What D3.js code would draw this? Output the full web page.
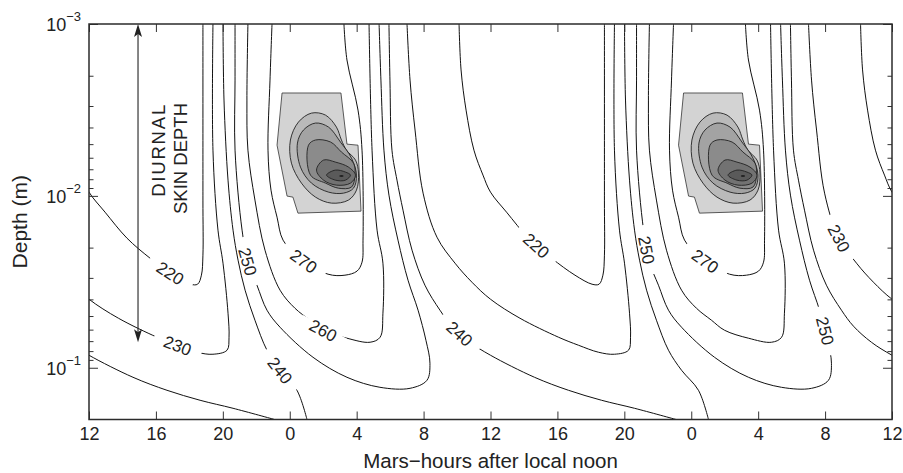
<!DOCTYPE html>
<html>
<head>
<meta charset="utf-8">
<script src="https://cdnjs.cloudflare.com/ajax/libs/d3/7.8.5/d3.min.js"></script>
<style>
  body { margin: 0; background: #fff; }
  svg text { font-family: "Liberation Sans", Arial, Helvetica, sans-serif; fill: #222; }
</style>
</head>
<body>
<script>
// x = Mars-hours after local noon (12 .. 60 = two sols), y = depth in m
const hourTicks = [12, 16, 20, 24, 28, 32, 36, 40, 44, 48, 52, 56, 60];
const depthMajor = [1e-3, 1e-2, 1e-1];

// temperature contours (K), [hour, depth], one sol each, repeated every 24 h
const c220 = [[34.12,0.00100],[34.24,0.00185],[34.54,0.00317],[35.01,0.00542],[35.55,0.00757],[36.00,0.00951],
  [36.96,0.01244],[38.27,0.01762],[39.65,0.02304],[41.05,0.02893],[42.07,0.03265],[42.49,0.03265],[42.72,0.02893],
  [42.81,0.02213],[42.81,0.01058],[42.81,0.00100]];
const c230 = [[31.01,0.00100],[31.19,0.00212],[31.49,0.00414],[31.97,0.00964],[32.80,0.01739],[33.88,0.02464],
  [34.89,0.03178],[36.00,0.03993],[37.76,0.0515],[40.07,0.06645],[41.26,0.07396],[42.46,0.08124],[43.41,0.08344],
  [44.25,0.07906],[44.37,0.06645],[44.31,0.04816],[44.01,0.02464],[43.71,0.01583],[43.41,0.00542],[43.41,0.00100]];
const c240rise = [[25.03,0.2],[24.43,0.1352],[23.42,0.1034],[22.64,0.0791],[21.92,0.0529],[21.33,0.03538],
  [20.91,0.02366],[20.61,0.01583],[20.31,0.0081],[20.07,0.00277],[20.01,0.001]];
const c240fall = [[29.93,0.00100],[29.99,0.00212],[30.11,0.00542],[30.41,0.0081],[30.77,0.01211],[31.31,0.0207],
  [32.08,0.03309],[32.98,0.04626],[33.70,0.05733],[34.77,0.07105],[36.00,0.08456],[38.63,0.1136],[40.66,0.1352],
  [42.64,0.1546],[44.61,0.1721],[47.09,0.2]];
const c250 = [[20.73,0.001],[20.73,0.00212],[20.73,0.00542],[21.15,0.01583],[21.50,0.0243],[22.04,0.03309],
  [22.64,0.04626],[23.42,0.0581],[25.39,0.0869],[27.42,0.1136],[29.39,0.1299],[31.19,0.1317],[32.20,0.1183],
  [32.38,0.0941],[32.14,0.0692],[31.67,0.04626],[31.07,0.03095],[30.47,0.0181],[29.93,0.0099],[29.63,0.00542],
  [29.45,0.00212],[29.34,0.001]];
const c260 = [[21.50,0.001],[21.44,0.00277],[21.50,0.00542],[21.92,0.01058],[22.52,0.0207],[23.42,0.03538],
  [24.31,0.04504],[25.21,0.0529],[25.99,0.0605],[27.42,0.0673],[28.80,0.07105],[29.40,0.06645],[29.57,0.04816],
  [29.57,0.02464],[29.22,0.01583],[28.92,0.00542],[28.74,0.001]];
const c270 = [[22.94,0.001],[22.82,0.00212],[22.70,0.00542],[22.88,0.00926],[23.24,0.0133],[23.60,0.0181],
  [24.61,0.02304],[26.29,0.02855],[27.30,0.02893],[28.02,0.0274],[28.32,0.0243],[28.38,0.0181],[28.32,0.00542],
  [28.08,0.00317],[27.42,0.00162],[27.24,0.001]];

// contour labels: [level, hour, depth]
const contourLabels = [
  [220, 16.96, 0.02705], [230, 17.26, 0.07396], [250, 21.50, 0.0243], [270, 24.73, 0.0243],
  [260, 25.99, 0.0605], [240, 23.42, 0.1034], [240, 34.18, 0.06297],
  [220, 38.78, 0.01936], [250, 45.36, 0.0207], [270, 48.82, 0.0243], [250, 55.58, 0.06297], [230, 56.89, 0.01739]
];

// shaded field (outer polygon + nested levels), first sol
const shadeOuter = [[23.54,0.00252],[27.06,0.00252],[27.42,0.0050],[28.08,0.00507],[28.26,0.01227],
  [24.49,0.0126],[24.19,0.01017],[23.84,0.01003],[23.24,0.00507]];
const shade1 = [[24.04,0.00473],[24.52,0.00372],[25.30,0.0033],[26.14,0.00339],[26.79,0.00398],[27.09,0.00473],
  [27.39,0.00542],[27.93,0.00619],[28.11,0.00737],[27.99,0.00926],[27.51,0.01058],[26.50,0.01102],[25.54,0.01017],
  [24.70,0.00843],[24.10,0.00645]];
const shade2 = [[24.46,0.00493],[24.82,0.00414],[25.54,0.00377],[26.32,0.00398],[27.03,0.00486],[27.69,0.00603],
  [27.99,0.00757],[27.81,0.00902],[27.21,0.00964],[26.32,0.00951],[25.30,0.00843],[24.64,0.0068]];
const shade3 = [[25.12,0.00507],[25.54,0.00473],[26.44,0.00486],[27.09,0.00556],[27.81,0.00645],[27.90,0.00757],
  [27.69,0.00889],[26.91,0.00902],[26.14,0.00843],[25.24,0.00757]];
const shade4 = [[25.60,0.00708],[26.02,0.00619],[26.73,0.00636],[27.51,0.0068],[27.93,0.00757],[27.63,0.00843],
  [26.79,0.00866],[26.02,0.0081]];
const shade5 = [[26.20,0.00757],[26.73,0.00708],[27.33,0.00727],[27.63,0.00757],[27.33,0.0081],[26.73,0.0081]];
const shadeDot = [27.09, 0.00767];

// skin depth arrow: hour, top depth, bottom depth
const skinArrow = [14.93, 0.001, 0.071];

const margin = { top: 24, right: 11, bottom: 53.5, left: 89 };
const width = 903 - margin.left - margin.right;
const height = 473 - margin.top - margin.bottom;

const x = d3.scaleLinear().domain([12, 60]).range([0, width]);
const y = d3.scaleLog().domain([1e-3, 0.2]).range([0, height]);

const svg = d3.select("body").append("svg")
    .attr("width", 903)
    .attr("height", 473);

const g = svg.append("g")
    .attr("transform", `translate(${margin.left},${margin.top})`);

svg.append("defs").append("clipPath").attr("id", "plotclip")
  .append("rect").attr("width", width).attr("height", height);

const plot = g.append("g").attr("clip-path", "url(#plotclip)");

// shaded blobs, one per sol
const shadeFills = ["#d3d3d3", "#bababa", "#a3a3a3", "#8b8b8b", "#727272", "#5a5a5a"];
const shift = (pts, s) => pts.map(p => [p[0] + s, p[1]]);
const polyLine = d3.line().x(d => x(d[0])).y(d => y(d[1])).curve(d3.curveLinearClosed);
const blobLine = d3.line().x(d => x(d[0])).y(d => y(d[1])).curve(d3.curveCatmullRomClosed.alpha(0.5));

[0, 24].forEach(s => {
  plot.append("path")
    .attr("d", polyLine(shift(shadeOuter, s)))
    .attr("fill", shadeFills[0])
    .attr("stroke", "#333")
    .attr("stroke-width", 0.8);
  [shade1, shade2, shade3, shade4, shade5].forEach((pts, i) => {
    plot.append("path")
      .attr("d", blobLine(shift(pts, s)))
      .attr("fill", shadeFills[i + 1])
      .attr("stroke", "#222")
      .attr("stroke-width", 0.9);
  });
  plot.append("ellipse")
    .attr("cx", x(shadeDot[0] + s))
    .attr("cy", y(shadeDot[1]))
    .attr("rx", 2.2).attr("ry", 1)
    .attr("fill", "#222");
});

// temperature contours
const contours = [
  { level: 220, pts: c220 }, { level: 230, pts: c230 },
  { level: 240, pts: c240rise }, { level: 240, pts: c240fall },
  { level: 250, pts: c250 }, { level: 260, pts: c260 }, { level: 270, pts: c270 }
];
const cLine = d3.line().x(d => x(d[0])).y(d => y(d[1])).curve(d3.curveCatmullRom.alpha(0.5));
const pathsByLevel = {};

contours.forEach(c => {
  [-24, 0, 24].forEach(s => {
    const p = plot.append("path")
      .attr("d", cLine(shift(c.pts, s)))
      .attr("fill", "none")
      .attr("stroke", "#111")
      .attr("stroke-width", 1);
    (pathsByLevel[c.level] = pathsByLevel[c.level] || []).push(p.node());
  });
});

// put each label on its contour, turned along the line
function snap(level, h, d) {
  const px = x(h), py = y(d);
  let best = null;
  pathsByLevel[level].forEach(node => {
    const L = node.getTotalLength();
    for (let t = 0; t <= L; t += 1.5) {
      const q = node.getPointAtLength(t);
      const dd = (q.x - px) ** 2 + (q.y - py) ** 2;
      if (!best || dd < best.dd) best = { dd, node, t, L, x: q.x, y: q.y };
    }
  });
  const a = best.node.getPointAtLength(Math.max(0, best.t - 5));
  const b = best.node.getPointAtLength(Math.min(best.L, best.t + 5));
  let ang = Math.atan2(b.y - a.y, b.x - a.x) * 180 / Math.PI;
  if (ang > 90) ang -= 180;
  if (ang < -90) ang += 180;
  return { x: best.x, y: best.y, ang };
}

contourLabels.forEach(([level, h, d]) => {
  const p = snap(level, h, d);
  const lg = plot.append("g").attr("transform", `translate(${p.x},${p.y}) rotate(${p.ang})`);
  lg.append("rect")
    .attr("x", -25).attr("y", -4).attr("width", 50).attr("height", 8)
    .attr("fill", "#fff");
  lg.append("text")
    .attr("text-anchor", "middle")
    .attr("dy", "0.36em")
    .style("font-size", "17px")
    .text(level);
});

// diurnal skin depth arrow
const ax = x(skinArrow[0]), ay0 = y(skinArrow[1]), ay1 = y(skinArrow[2]);
g.append("line")
  .attr("x1", ax).attr("x2", ax).attr("y1", ay0 + 4).attr("y2", ay1 - 4)
  .attr("stroke", "#222").attr("stroke-width", 1.1);
g.append("path")
  .attr("d", `M${ax},${ay0} L${ax + 4},${ay0 + 13} L${ax},${ay0 + 10} L${ax - 4},${ay0 + 13} Z`)
  .attr("fill", "#222");
g.append("path")
  .attr("d", `M${ax},${ay1} L${ax + 4},${ay1 - 13} L${ax},${ay1 - 10} L${ax - 4},${ay1 - 13} Z`)
  .attr("fill", "#222");
g.append("text")
  .attr("transform", `translate(${ax + 27},79) rotate(-90)`)
  .attr("text-anchor", "end")
  .style("font-size", "18.5px")
  .style("letter-spacing", "1.8px")
  .text("DIURNAL");
g.append("text")
  .attr("transform", `translate(${ax + 49},79) rotate(-90)`)
  .attr("text-anchor", "end")
  .style("font-size", "18.5px")
  .text("SKIN DEPTH");

// axes: ticks point inward on all four sides
const minorDepths = [];
[1e-3, 1e-2, 1e-1].forEach(dec => {
  for (let k = 2; k <= 9; k++) if (dec * k < 0.2 - 1e-9) minorDepths.push(dec * k);
});

const xBottom = g.append("g")
  .attr("transform", `translate(0,${height})`)
  .call(d3.axisBottom(x).tickValues(hourTicks).tickSize(-8).tickPadding(8)
    .tickFormat(h => h % 24));
const xTop = g.append("g")
  .call(d3.axisTop(x).tickValues(hourTicks).tickSize(-8).tickFormat(""));
const yLeft = g.append("g")
  .call(d3.axisLeft(y).tickValues(depthMajor).tickSize(-9).tickFormat(""));
const yLeftMinor = g.append("g")
  .call(d3.axisLeft(y).tickValues(minorDepths).tickSize(-4.5).tickFormat(""));
const yRight = g.append("g")
  .attr("transform", `translate(${width},0)`)
  .call(d3.axisRight(y).tickValues(depthMajor).tickSize(-9).tickFormat(""));
const yRightMinor = g.append("g")
  .attr("transform", `translate(${width},0)`)
  .call(d3.axisRight(y).tickValues(minorDepths).tickSize(-4.5).tickFormat(""));

[xBottom, xTop, yLeft, yLeftMinor, yRight, yRightMinor].forEach(a => {
  a.select(".domain").remove();
  a.selectAll(".tick line").attr("stroke", "#333").attr("stroke-width", 1);
});
xBottom.selectAll(".tick text")
  .style("font-size", "18px")
  .attr("fill", "#222");

// depth labels as 10 with superscript exponent
depthMajor.forEach(d => {
  const t = g.append("text")
    .attr("x", -8)
    .attr("y", y(d) + 7)
    .attr("text-anchor", "end")
    .style("font-size", "18px");
  t.append("tspan").text("10");
  t.append("tspan")
    .attr("dy", -10)
    .style("font-size", "13px")
    .text("\u2212" + Math.round(-Math.log10(d)));
});

// frame
g.append("rect")
  .attr("width", width).attr("height", height)
  .attr("fill", "none")
  .attr("stroke", "#2b2b2b")
  .attr("stroke-width", 1.5);

// axis titles
svg.append("text")
  .attr("x", margin.left + width / 2)
  .attr("y", 468)
  .attr("text-anchor", "middle")
  .style("font-size", "20.5px")
  .text("Mars\u2212hours after local noon");

svg.append("text")
  .attr("transform", `translate(27,${margin.top + height / 2}) rotate(-90)`)
  .attr("text-anchor", "middle")
  .style("font-size", "21px")
  .text("Depth (m)");
</script>
</body>
</html>
